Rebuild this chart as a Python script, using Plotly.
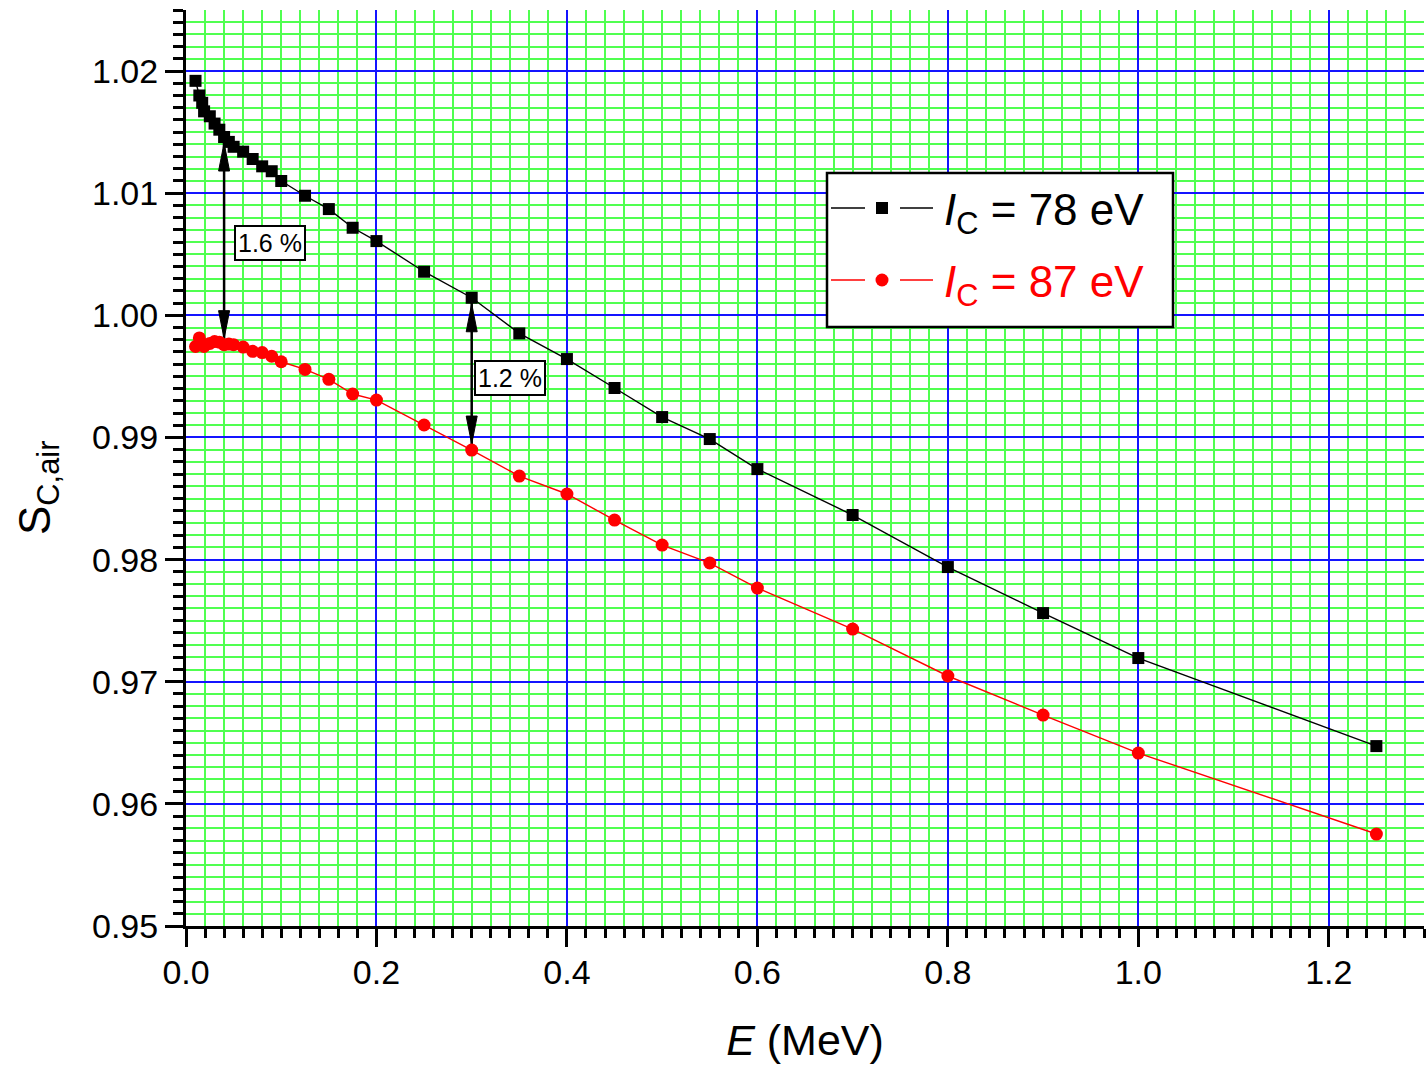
import plotly.graph_objects as go

# ---- data ----
energy_MeV = [0.01, 0.014, 0.017, 0.019, 0.025, 0.03, 0.035, 0.04, 0.045, 0.05,
              0.06, 0.07, 0.08, 0.09, 0.1, 0.125, 0.15, 0.175, 0.2, 0.25,
              0.3, 0.35, 0.4, 0.45, 0.5, 0.55, 0.6, 0.7, 0.8, 0.9, 1.0, 1.25]
s_ic78 = [1.0192, 1.0180, 1.0174, 1.0167, 1.0163, 1.0157, 1.0152, 1.0146, 1.0142, 1.0138,
          1.0134, 1.0128, 1.0122, 1.0118, 1.0110, 1.00979, 1.00870, 1.00717, 1.00608, 1.00357,
          1.00144, 0.99852, 0.99642, 0.99405, 0.99167, 0.98987, 0.98741, 0.98365, 0.97939,
          0.97562, 0.97194, 0.96473]
s_ic87 = [0.99745, 0.99815, 0.99765, 0.99745, 0.9977, 0.99785, 0.9978, 0.9976, 0.99765, 0.9976,
          0.9974, 0.99705, 0.99695, 0.99665, 0.9962, 0.99557, 0.99476, 0.99356, 0.99306, 0.99102,
          0.98897, 0.98684, 0.98537, 0.98324, 0.98119, 0.97972, 0.97767, 0.97431, 0.97047,
          0.96727, 0.96416, 0.95753]
series_names = ["I<sub>C</sub> = 78 eV", "I<sub>C</sub> = 87 eV"]
legend_texts = ["<i>I</i><sub>C</sub> = 78 eV", "<i>I</i><sub>C</sub> = 87 eV"]
series_colors = ["black", "red"]
diff_energies = [0.04, 0.3]
diff_labels = ["1.6 %", "1.2 %"]
diff_label_pos = [(0.0882, 1.00592), (0.3407, 0.99487)]

FONT = "Liberation Sans, Arial, sans-serif"
W, H = 1427, 1072
L, R, T, B = 186, 3, 10, 146
PW, PH = W - L - R, H - T - B


def px(xp):
    return (xp - L) / PW


def py(yp):
    return (H - B - yp) / PH


fig = go.Figure()
fig.add_trace(go.Scatter(x=energy_MeV, y=s_ic78, mode="lines+markers", name=series_names[0],
                         line=dict(color=series_colors[0], width=1.4),
                         marker=dict(symbol="square", size=12, color=series_colors[0])))
fig.add_trace(go.Scatter(x=energy_MeV, y=s_ic87, mode="lines+markers", name=series_names[1],
                         line=dict(color=series_colors[1], width=1.4),
                         marker=dict(symbol="circle", size=13, color=series_colors[1])))

shapes = []
annotations = []

# double arrows showing the difference
for e, lab, (lx, ly) in zip(diff_energies, diff_labels, diff_label_pos):
    i = energy_MeV.index(e)
    top, bot = s_ic78[i], s_ic87[i]
    shapes.append(dict(type="line", xref="x", yref="y", x0=e, x1=e, y0=bot, y1=top,
                       line=dict(color="black", width=2.5), layer="between"))
    shapes.append(dict(type="path", xref="x", yref="y", xsizemode="pixel", ysizemode="pixel",
                       xanchor=e, yanchor=top, path="M0,-6 L-5.5,-34 L5.5,-34 Z",
                       fillcolor="black", line=dict(color="black", width=1), layer="between"))
    shapes.append(dict(type="path", xref="x", yref="y", xsizemode="pixel", ysizemode="pixel",
                       xanchor=e, yanchor=bot, path="M0,6 L-5.5,34 L5.5,34 Z",
                       fillcolor="black", line=dict(color="black", width=1), layer="between"))
    annotations.append(dict(x=lx, y=ly, xref="x", yref="y", text=lab, showarrow=False,
                            font=dict(family=FONT, size=25, color="black"),
                            bgcolor="white", bordercolor="black", borderwidth=2, borderpad=2))

# custom legend
shapes.append(dict(type="rect", xref="paper", yref="paper", x0=px(827), x1=px(1173),
                   y0=py(327), y1=py(173), fillcolor="white",
                   line=dict(color="black", width=2.5), layer="above"))
rows = [208, 280]
for k, yrow in enumerate(rows):
    col = series_colors[k]
    for x0, x1 in [(831, 865), (900, 933)]:
        shapes.append(dict(type="line", xref="paper", yref="paper", x0=px(x0), x1=px(x1),
                           y0=py(yrow), y1=py(yrow), line=dict(color=col, width=1.4), layer="above"))
    if k == 0:
        shapes.append(dict(type="rect", xref="paper", yref="paper", xsizemode="pixel",
                           ysizemode="pixel", xanchor=px(882), yanchor=py(yrow),
                           x0=-6, x1=6, y0=-6, y1=6, fillcolor=col, line=dict(color=col, width=0),
                           layer="above"))
    else:
        shapes.append(dict(type="circle", xref="paper", yref="paper", xsizemode="pixel",
                           ysizemode="pixel", xanchor=px(882), yanchor=py(yrow),
                           x0=-6.5, x1=6.5, y0=-6.5, y1=6.5, fillcolor=col,
                           line=dict(color=col, width=0), layer="above"))
    annotations.append(dict(x=px(942), y=py(yrow + 5), xref="paper", yref="paper",
                            xanchor="left", yanchor="middle", text=legend_texts[k], showarrow=False,
                            font=dict(family=FONT, size=44, color=col)))

# y-axis title
annotations.append(dict(x=px(38), y=py(488), xref="paper", yref="paper", xanchor="center",
                        yanchor="middle", textangle=-90, text="S<sub>C,air</sub>",
                        showarrow=False, font=dict(family=FONT, size=44, color="black")))

fig.update_layout(
    template="none",
    width=W, height=H,
    margin=dict(l=L, r=R, t=T, b=B),
    plot_bgcolor="white", paper_bgcolor="white",
    showlegend=False,
    shapes=shapes, annotations=annotations,
    font=dict(family=FONT, color="black"),
)
GREEN = "rgb(80,255,80)"
BLUE = "rgb(20,20,255)"
fig.update_xaxes(
    range=[0, 1.3], tickmode="linear", tick0=0, dtick=0.2, tickformat=".1f",
    showline=True, linecolor="black", linewidth=3, zeroline=False,
    ticks="outside", ticklen=18, tickwidth=3, tickcolor="black", ticklabelstandoff=-4,
    tickfont=dict(family=FONT, size=34, color="black"),
    showgrid=True, gridcolor=BLUE, gridwidth=1.6,
    minor=dict(dtick=0.02, tick0=0, ticks="outside", ticklen=9, tickwidth=3, tickcolor="black",
               showgrid=True, gridcolor=GREEN, gridwidth=1.6),
    title=dict(text="<i>E</i> (MeV)", font=dict(family=FONT, size=43, color="black"), standoff=36),
    automargin=False,
)
fig.update_yaxes(
    range=[0.95, 1.025], tickmode="linear", tick0=0.95, dtick=0.01, tickformat=".2f",
    showline=True, linecolor="black", linewidth=3, zeroline=False,
    ticks="outside", ticklen=18, tickwidth=3, tickcolor="black",
    tickfont=dict(family=FONT, size=34, color="black"),
    showgrid=True, gridcolor=BLUE, gridwidth=1.6,
    minor=dict(dtick=0.001, tick0=0.95, ticks="outside", ticklen=10, tickwidth=3, tickcolor="black",
               showgrid=True, gridcolor=GREEN, gridwidth=1.6),
    automargin=False,
)

fig.write_html("out.html", config={"displayModeBar": False},
               post_script="document.body.style.margin='0px';")
